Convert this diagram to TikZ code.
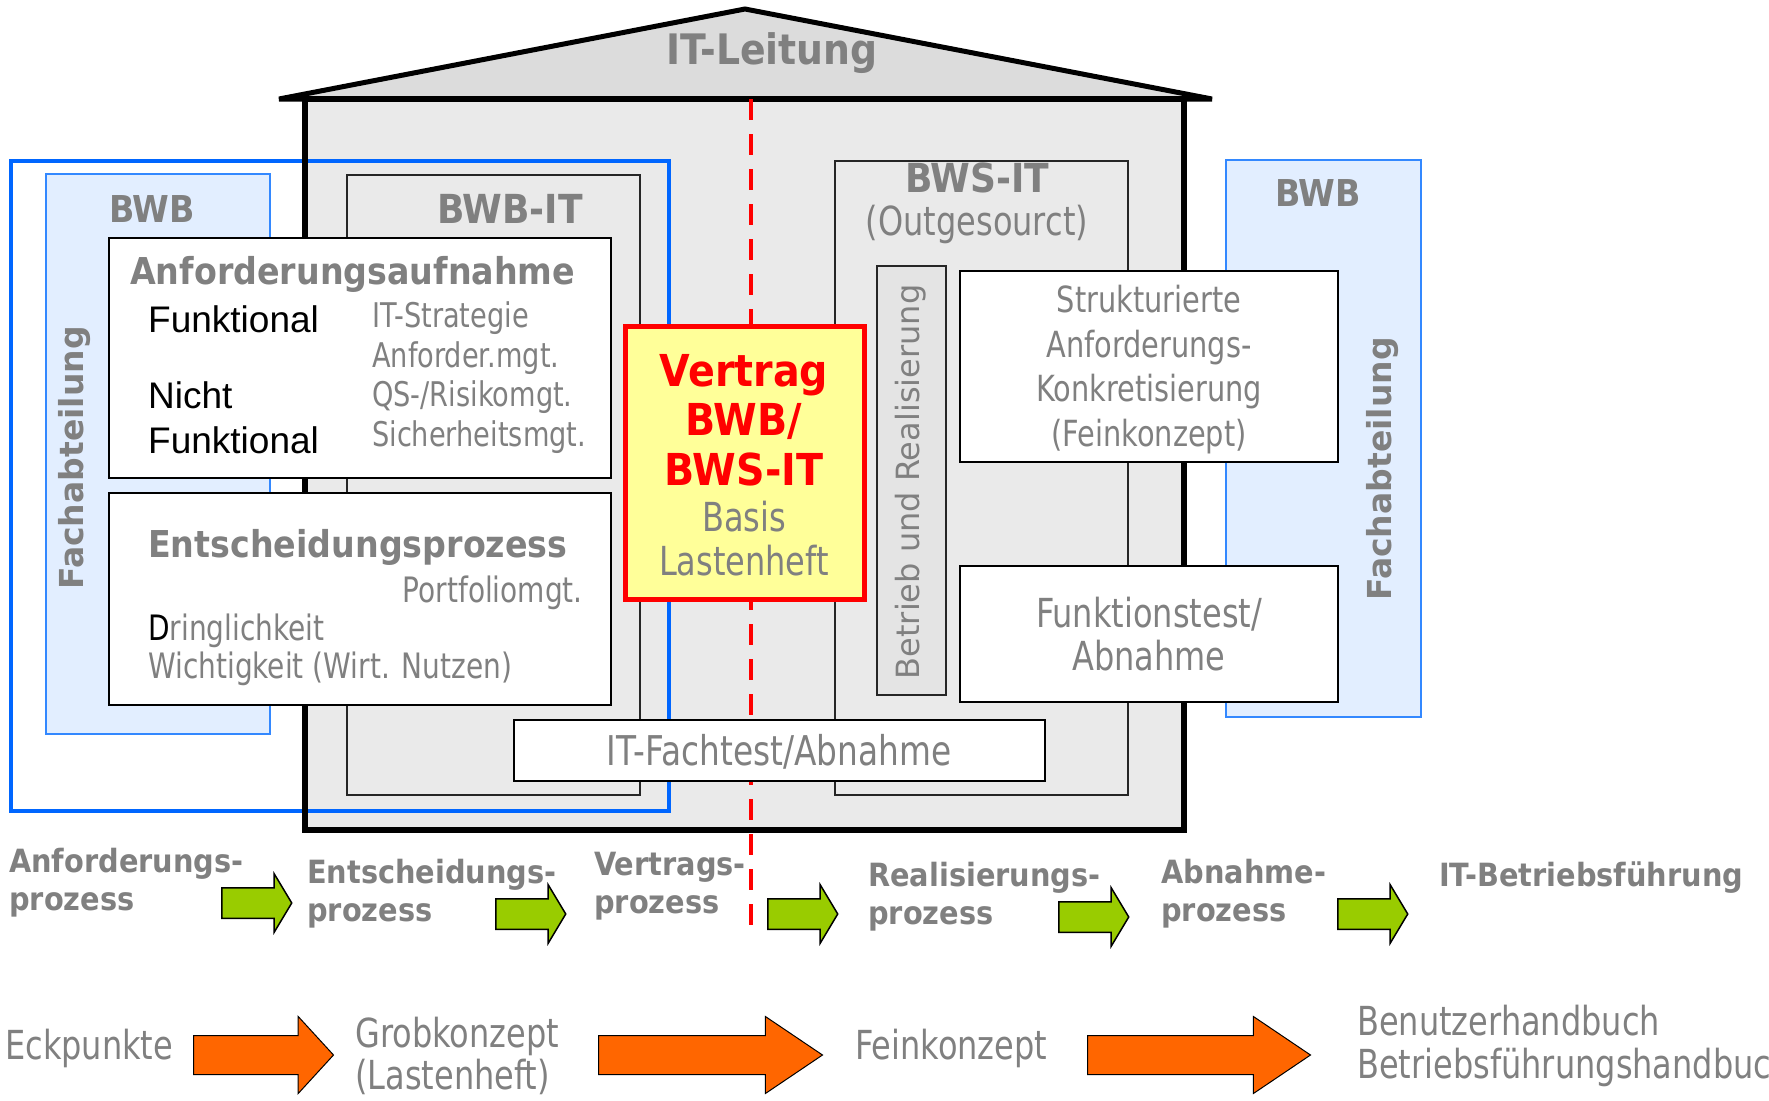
\documentclass[tikz,border=0pt]{standalone}
\usepackage{fontspec}
\setmainfont{DejaVu Sans}[FakeStretch=0.8]
\newfontfamily\headfont{DejaVu Sans}[FakeStretch=0.9]
\newfontfamily\vertfont{DejaVu Sans}
\newfontfamily\blackfont{Liberation Sans}
\usepackage{tikz}
\usetikzlibrary{shapes.arrows}
\definecolor{labelgray}{HTML}{808080}
\definecolor{housegray}{HTML}{EAEAEA}
\definecolor{roofgray}{HTML}{DCDCDC}
\definecolor{bwbblue}{HTML}{0066FF}
\definecolor{bwbline}{HTML}{3388FF}
\definecolor{bwbfill}{HTML}{E2EEFF}
\definecolor{betriebgray}{HTML}{E4E4E4}
\definecolor{vertragyellow}{HTML}{FFFF99}
\definecolor{procgreen}{HTML}{99CC00}
\definecolor{docorange}{HTML}{FF6600}

\begin{document}
\begin{tikzpicture}[x=1pt, y=-1pt,
    gtxt/.style 2 args={text=labelgray, inner sep=0pt, font=\fontsize{#1}{#2}\selectfont},
    btxt/.style 2 args={text=labelgray, inner sep=0pt, font=\headfont\bfseries\fontsize{#1}{#2}\selectfont},
    ktxt/.style={text=black, inner sep=0pt, font=\blackfont\fontsize{37}{45}\selectfont},
    vtxt/.style={text=labelgray, inner sep=0pt, rotate=90},
    whitebox/.style={draw=black, line width=2.5pt, fill=white},
    itframe/.style={draw=black!85, line width=2pt},
    bwbbox/.style={draw=bwbline, line width=2pt, fill=bwbfill},
    greenarrow/.style={single arrow, draw=black, line width=1.5pt, fill=procgreen, inner xsep=0pt,
      inner ysep=14.5pt, minimum height=70pt, single arrow head extend=14pt, single arrow tip angle=118,
      anchor=tail},
    orangearrow/.style={single arrow, draw=black, line width=1pt, fill=docorange, inner xsep=0pt,
      inner ysep=19pt, single arrow head extend=19pt, anchor=tail}]
    \useasboundingbox (0,0) rectangle (1769,1100);

    % Fachabteilung links, Haus, Dach
    \draw[bwbbox] (46,174) rectangle (270,734);
    \fill[housegray] (305,99) rectangle (1184,830);
    \draw[line width=5pt, fill=roofgray] (279,99) -- (745,9) -- (1212,99) -- cycle;
    \draw[bwbblue, line width=4pt] (11,161) rectangle (669,811);
    \draw[line width=5.5pt] (305,99) rectangle (1184,830);
    \node[btxt={42}{42}, anchor=base] (itleitung) at (772,64) {IT-Leitung};

    % IT-Bereiche
    \draw[itframe] (347,175) rectangle (640,795);
    \draw[itframe] (835,161) rectangle (1128,795);
    \coordinate (cutTop) at (751,99);
    \coordinate (cutBot) at (751,932);
    \draw[red, line width=4pt, dash pattern=on 21pt off 14pt] (cutTop) -- (cutBot);
    \node[btxt={37}{37}, anchor=base] (bwbLeft) at (152,222) {BWB};
    \node[btxt={40}{40}, anchor=base] (bwbIt) at (510,223) {BWB-IT};
    \node[btxt={40}{40}, anchor=base] (bwsIt) at (977,192) {BWS-IT};
    \node[gtxt={40}{40}, anchor=base] (outsourced) at (977,235) {(Outgesourct)};
    \node[vtxt, font=\vertfont\bfseries\fontsize{33}{33}\selectfont] (fachLeft) at (75,458) {Fachabteilung};

    % Betrieb und Realisierung
    \draw[itframe, fill=betriebgray] (877,266) rectangle (946,695);
    \node[vtxt, font=\vertfont\fontsize{32}{32}\selectfont] (betrieb) at (911,482) {Betrieb und Realisierung};

    % Fachabteilung rechts
    \draw[bwbbox] (1226,160) rectangle (1421,717);
    \node[btxt={37}{37}, anchor=base] (bwbRight) at (1318,206) {BWB};
    \node[vtxt, font=\vertfont\bfseries\fontsize{33}{33}\selectfont] (fachRight) at (1383,469) {Fachabteilung};

    % Anforderungsaufnahme (base = letzte Zeile)
    \draw[whitebox] (109,238) rectangle (611,478);
    \node[btxt={37}{37}, anchor=base west] (anfHead) at (130,284) {Anforderungsaufnahme};
    \node[ktxt, anchor=base west] (funk) at (148,332) {Funktional};
    \node[ktxt, anchor=base west, align=left] (nichtFunk) at (148,453) {Nicht\\Funktional};
    \node[gtxt={34}{39.5}, anchor=base west, align=left] (anfList) at (372,446)
      {IT-Strategie\\Anforder.mgt.\\QS-/Risikomgt.\\Sicherheitsmgt.};

    % Entscheidungsprozess
    \draw[whitebox] (109,493) rectangle (611,705);
    \node[btxt={37}{37}, anchor=base west] (entHead) at (148,557) {Entscheidungsprozess};
    \node[gtxt={35}{35}, anchor=base east] (portfolio) at (583,602) {Portfoliomgt.};
    \node[gtxt={35}{38}, anchor=base west, align=left] (dringlich) at (148,678)
      {\textcolor{black}{D}ringlichkeit\\Wichtigkeit (Wirt. Nutzen)};

    % Feinkonzept und Abnahme
    \draw[whitebox] (960,271) rectangle (1338,462);
    \node[gtxt={36}{44.5}, anchor=base, align=center] (feinBox) at (1149,446)
      {Strukturierte\\Anforderungs-\\Konkretisierung\\(Feinkonzept)};
    \draw[whitebox] (960,566) rectangle (1338,702);
    \node[gtxt={40}{43}, anchor=base, align=center] (funkTest) at (1149,670) {Funktionstest/\\Abnahme};
    \draw[whitebox] (514,720) rectangle (1045,781);
    \node[gtxt={41}{41}, anchor=base] (fachTest) at (779,765) {IT-Fachtest/Abnahme};

    % Vertrag
    \draw[red, line width=5pt, fill=vertragyellow] (625,326) rectangle (864,599);
    \node[text=red, inner sep=0pt, font=\headfont\bfseries\fontsize{44}{49.5}\selectfont,
      anchor=base, align=center] (vertrag) at (744,485) {Vertrag\\BWB/\\BWS-IT};
    \node[gtxt={40}{44}, anchor=base, align=center] (basis) at (744,575) {Basis\\Lastenheft};

    % Prozesskette
    \node[btxt={32}{38}, anchor=base west, align=left] (anfProz) at (9,910) {Anforderungs-\\prozess};
    \node[greenarrow] (ga1) at (221,903) {};
    \node[btxt={32}{38}, anchor=base west, align=left] (entProz) at (307,921) {Entscheidungs-\\prozess};
    \node[greenarrow] (ga2) at (495,914) {};
    \node[btxt={32}{38}, anchor=base west, align=left] (verProz) at (594,913) {Vertrags-\\prozess};
    \node[greenarrow] (ga3) at (767,914) {};
    \node[btxt={32}{38}, anchor=base west, align=left] (realProz) at (868,924) {Realisierungs-\\prozess};
    \node[greenarrow] (ga4) at (1058,917) {};
    \node[btxt={32}{38}, anchor=base west, align=left] (abnProz) at (1161,921) {Abnahme-\\prozess};
    \node[greenarrow] (ga5) at (1337,914) {};
    \node[btxt={32}{38}, anchor=base west] (itBetrieb) at (1439,886) {IT-Betriebsführung};

    % Dokumente
    \node[gtxt={40}{40}, anchor=base west] (eck) at (5,1059) {Eckpunkte};
    \node[orangearrow, minimum height=140pt, single arrow tip angle=95] (oa1) at (193,1055) {};
    \node[gtxt={40}{42}, anchor=base west, align=left] (grob) at (355,1089) {Grobkonzept\\(Lastenheft)};
    \node[orangearrow, minimum height=224pt, single arrow tip angle=68] (oa2) at (598,1055) {};
    \node[gtxt={40}{40}, anchor=base west] (fein) at (855,1059) {Feinkonzept};
    \node[orangearrow, minimum height=223pt, single arrow tip angle=68] (oa3) at (1087,1055) {};
    \node[gtxt={40}{43}, anchor=base west, align=left] (handbuch) at (1357,1078)
      {Benutzerhandbuch\\Betriebsführungshandbuch};
\end{tikzpicture}
\end{document}
